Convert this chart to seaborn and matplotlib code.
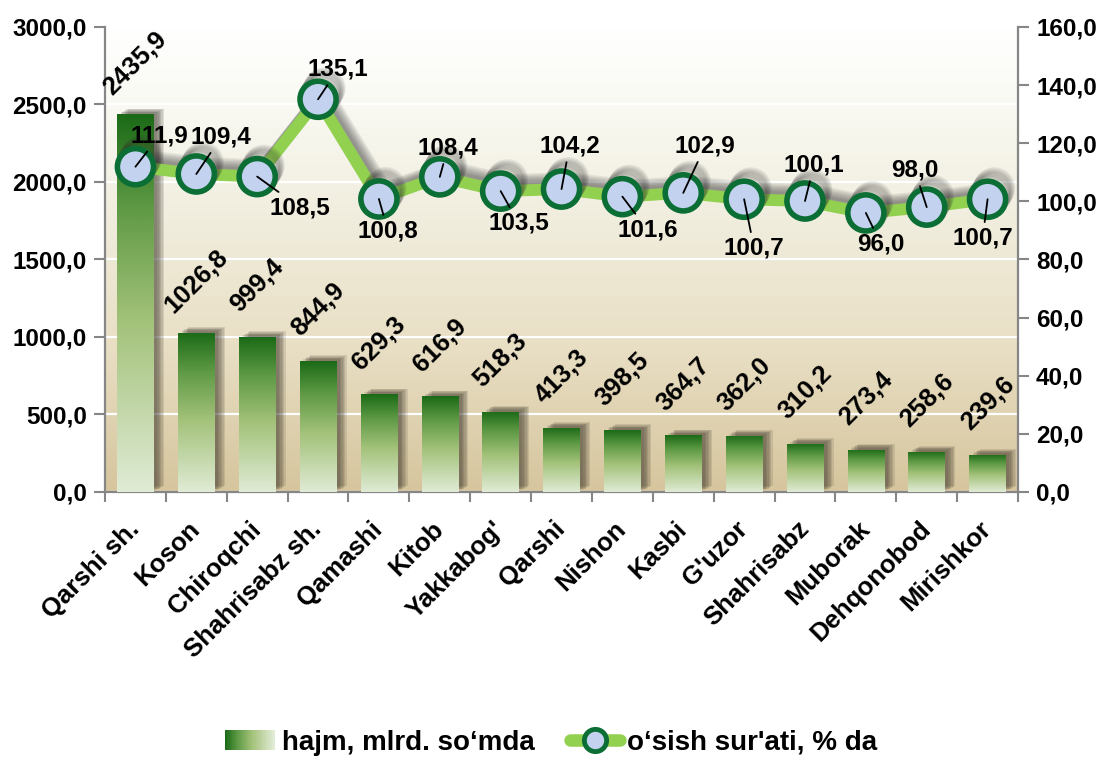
import numpy as np
import matplotlib
matplotlib.use("Agg")
import matplotlib.pyplot as plt
import seaborn as sns
from matplotlib.colors import LinearSegmentedColormap
from matplotlib.patches import Rectangle
from matplotlib.lines import Line2D
from matplotlib.legend_handler import HandlerBase
from matplotlib.ticker import FuncFormatter, FixedLocator, MultipleLocator
import matplotlib.patheffects as pe

# ---------------- data ----------------
categories = ["Qarshi sh.", "Koson", "Chiroqchi", "Shahrisabz sh.", "Qamashi", "Kitob",
              "Yakkabog'", "Qarshi", "Nishon", "Kasbi", "G'uzor", "Shahrisabz",
              "Muborak", "Dehqonobod", "Mirishkor"]
volume = [2435.9, 1026.8, 999.4, 844.9, 629.3, 616.9, 518.3, 413.3, 398.5,
          364.7, 362.0, 310.2, 273.4, 258.6, 239.6]
growth = [111.9, 109.4, 108.5, 135.1, 100.8, 108.4, 103.5, 104.2, 101.6,
          102.9, 100.7, 100.1, 96.0, 98.0, 100.7]
legend_labels = ["hajm, mlrd. so\u2018mda", "o\u2018sish sur'ati, % da"]

# label offsets (pixels) for growth labels: (dx, dy up)
growth_label_offsets = [(24, 31), (25, 37), (43, -31), (20, 30), (9, -32), (8, 29), (18, -32),
                        (8, 43), (25, -33), (22, 47), (10, -49), (9, 36), (15, -31),
                        (-12, 37), (-5, -39)]

# ---------------- style ----------------
sns.set_theme(style="white")
plt.rcParams["font.family"] = ["Liberation Sans", "DejaVu Sans"]
plt.rcParams["font.weight"] = "bold"
for k in ("text.color", "axes.labelcolor", "xtick.color", "ytick.color"):
    plt.rcParams[k] = "black"

bar_cmap = LinearSegmentedColormap.from_list(
    "bar", [(0.0, "#e0ebd5"), (0.45, "#a3c27a"), (0.75, "#5f9a45"), (1.0, "#1b6a17")])
bg_cmap = LinearSegmentedColormap.from_list(
    "bg", [(0.0, "#d6c59d"), (0.3, "#e8dec3"), (0.6, "#f1eedf"), (0.85, "#fafaf4"), (1.0, "#ffffff")])
line_green = "#92d050"
marker_edge = "#0b6e35"
marker_face = "#c3d2ef"
spine_col = "#868686"

fig = plt.figure(figsize=(11.02, 7.58), dpi=100)
ax = fig.add_axes([0.0953, 0.351, 0.8285, 0.6135])
ax.patch.set_visible(False)

fmt = FuncFormatter(lambda v, p: f"{v:.1f}".replace(".", ","))

# ---------------- bars ----------------
sns.barplot(x=categories, y=volume, ax=ax, color="#5f9a45", saturation=1, width=0.6,
            order=categories, errorbar=None, zorder=3)

bar_shadow = [pe.SimplePatchShadow(offset=(d, d * 0.55), shadow_rgbFace="#3a3428", alpha=0.13)
              for d in (2.5, 3.5, 4.5, 5.5, 6.5, 7.5)]
grad = np.linspace(0, 1, 256).reshape(-1, 1)
for patch, v in zip(ax.patches, volume):
    patch.set_edgecolor("none")
    patch.set_path_effects(bar_shadow + [pe.Normal()])
    x0, y0 = patch.get_x(), patch.get_y()
    w, h = patch.get_width(), patch.get_height()
    im = ax.imshow(grad, extent=[x0, x0 + w, y0, y0 + h], aspect="auto", cmap=bar_cmap,
                   origin="lower", zorder=3.1, interpolation="bilinear")
    im.set_clip_path(patch)
    ax.annotate(f"{v:.1f}".replace(".", ","), xy=(x0 + w / 2, y0 + h), xytext=(0, 51),
                textcoords="offset pixels", rotation=45, ha="center", va="center",
                fontsize=18.5, fontweight="bold", color="black", zorder=6)

# background gradient
ax.imshow(np.linspace(0, 1, 256).reshape(-1, 1), extent=[0, 1, 0, 1], transform=ax.transAxes,
          aspect="auto", cmap=bg_cmap, origin="lower", zorder=-10, interpolation="bilinear")

ax.set_xlim(-0.5, len(categories) - 0.5)
ax.set_ylim(0, 3000)
ax.yaxis.set_major_locator(MultipleLocator(500))
ax.yaxis.set_major_formatter(fmt)
ax.yaxis.grid(True, color="white", lw=1.6, zorder=0.5)
ax.xaxis.grid(False)
ax.set_axisbelow(True)

# ---------------- line ----------------
ax2 = ax.twinx()
sns.pointplot(x=categories, y=growth, ax=ax2, order=categories, color=line_green,
              markers="o", linestyles="-", errorbar=None)
ln = ax2.lines[0]
ln.set_color(line_green)
ln.set_linewidth(8.5)
ln.set_marker("o")
ln.set_markersize(26)
ln.set_markerfacecolor(marker_face)
ln.set_markeredgecolor(marker_edge)
ln.set_markeredgewidth(4)
ln.set_zorder(4)
ln.set_path_effects([pe.SimpleLineShadow(offset=(d * 0.6, d), shadow_color="#303030", alpha=0.09)
                     for d in (2, 3, 4, 5, 6, 7, 8)] + [pe.Normal()])
for c in list(ax2.collections):
    c.remove()

ax2.set_ylim(0, 160)
ax2.yaxis.set_major_locator(MultipleLocator(20))
ax2.yaxis.set_major_formatter(fmt)
ax2.grid(False)

for i, (g, off) in enumerate(zip(growth, growth_label_offsets)):
    ax2.annotate(f"{g:.1f}".replace(".", ","), xy=(i, g), xytext=off, textcoords="offset pixels",
                 ha="center", va="center", fontsize=17.5, fontweight="bold", color="black",
                 zorder=7,
                 arrowprops=dict(arrowstyle="-", color="black", lw=1.3, shrinkA=1, shrinkB=0))

ax2.set_xlim(-0.5, len(categories) - 0.5)

# ---------------- axes styling ----------------
for a in (ax, ax2):
    a.spines["top"].set_visible(False)
    for s in ("left", "right", "bottom"):
        a.spines[s].set_color(spine_col)
        a.spines[s].set_linewidth(1.6)
ax.spines["right"].set_visible(False)
ax2.spines["left"].set_visible(False)
ax2.spines["bottom"].set_visible(False)

ax.tick_params(axis="y", which="major", direction="out", length=8, width=1.5, color=spine_col,
               labelsize=17.5, pad=5, left=True, labelcolor="black")
ax2.tick_params(axis="y", which="major", direction="out", length=8, width=1.5, color=spine_col,
                labelsize=17.5, pad=5, right=True, labelcolor="black")
for t in ax.get_yticklabels() + ax2.get_yticklabels():
    t.set_fontweight("bold")

ax.set_xticks(range(len(categories)))
ax.set_xticklabels(categories, rotation=45, ha="right", va="center", rotation_mode="anchor",
                   fontsize=18.5, fontweight="bold", color="black")
ax.xaxis.set_minor_locator(FixedLocator(np.arange(-0.5, len(categories), 1.0)))
ax.tick_params(axis="x", which="major", length=0, pad=24, bottom=True)
ax.tick_params(axis="x", which="minor", direction="out", length=7, width=1.5, color=spine_col,
               bottom=True)
ax.set_xlabel("")
ax.set_ylabel("")
ax2.set_ylabel("")
ax2.set_xlabel("")

# ---------------- legend ----------------
class GradientHandler(HandlerBase):
    def create_artists(self, legend, orig_handle, xdescent, ydescent, width, height,
                       fontsize, trans):
        n = 40
        arts = []
        for i in range(n):
            r = Rectangle((-xdescent + width * i / n, -ydescent), width / n * 1.08, height,
                          facecolor=bar_cmap(1 - i / (n - 1)), edgecolor="none", transform=trans)
            arts.append(r)
        return arts

bar_handle = Rectangle((0, 0), 1, 1)
line_handle = Line2D([], [], color=line_green, lw=9, marker="o", markersize=16,
                     markerfacecolor=marker_face, markeredgecolor=marker_edge, markeredgewidth=3.5,
                     solid_capstyle="round")
fig.legend([bar_handle, line_handle], legend_labels, loc="center", bbox_to_anchor=(0.5, 0.02),
           ncol=2, frameon=False, handler_map={Rectangle: GradientHandler()},
           prop={"size": 20, "weight": "bold"}, handlelength=1.8, handletextpad=0.25,
           columnspacing=1.3, labelcolor="black")

fig.savefig("out.png", dpi=100)
